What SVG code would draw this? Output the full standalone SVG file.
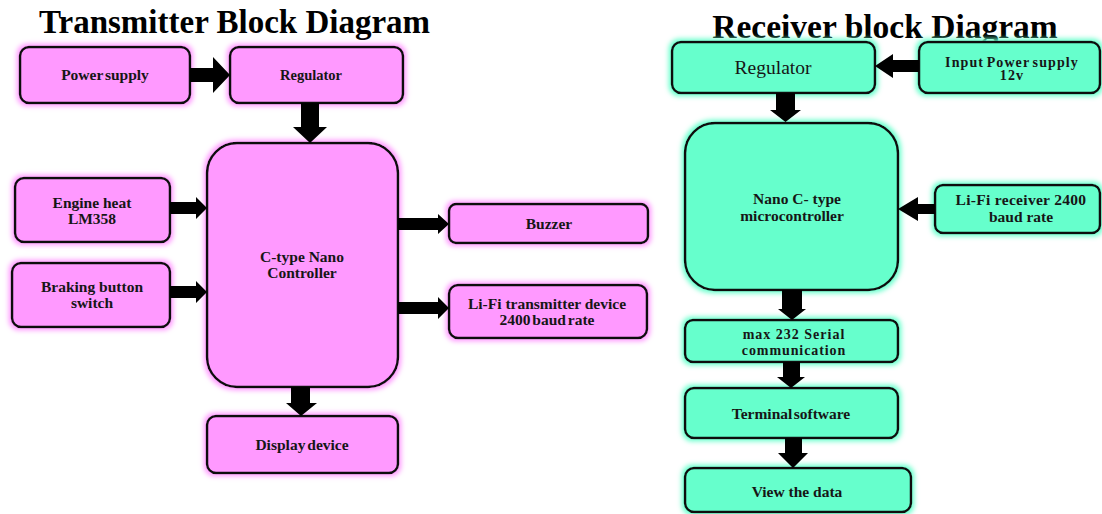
<svg xmlns="http://www.w3.org/2000/svg" width="1102" height="514" viewBox="0 0 1102 514">
<defs>
<filter id="gp" x="-20%" y="-30%" width="140%" height="160%">
<feMorphology in="SourceAlpha" operator="dilate" radius="2" result="d"/>
<feGaussianBlur in="d" stdDeviation="2.5" result="b"/>
<feFlood flood-color="#ff99ff"/>
<feComposite in2="b" operator="in" result="g"/>
<feMerge><feMergeNode in="g"/><feMergeNode in="SourceGraphic"/></feMerge>
</filter>
<filter id="gt" x="-20%" y="-30%" width="140%" height="160%">
<feMorphology in="SourceAlpha" operator="dilate" radius="2" result="d"/>
<feGaussianBlur in="d" stdDeviation="2.5" result="b"/>
<feFlood flood-color="#66ffcc"/>
<feComposite in2="b" operator="in" result="g"/>
<feMerge><feMergeNode in="g"/><feMergeNode in="SourceGraphic"/></feMerge>
</filter>
</defs>
<style>
.p{fill:#ff99ff;stroke:#111;stroke-width:2.5;filter:url(#gp)}
.t{fill:#66ffcc;stroke:#111;stroke-width:2.5;filter:url(#gt)}
.l{font-family:"Liberation Serif","Times New Roman",serif;font-weight:bold;font-size:15.5px;fill:#161616;text-anchor:middle}
.title{font-family:"Liberation Serif","Times New Roman",serif;font-weight:bold;font-size:33px;fill:#000;text-anchor:middle}
.ar{fill:#000}
</style>
<rect width="1102" height="514" fill="#fff"/>
<text class="title" x="234.5" y="33">Transmitter Block Diagram</text>
<text class="title" x="885" y="38" style="font-size:33.5px">Receiver block Diagram</text>

<g id="tx-power">
<rect class="p" x="20" y="47" width="170" height="56" rx="9"/>
<text class="l" x="105" y="80" style="word-spacing:-2px">Power supply</text>
</g>
<g id="tx-regulator">
<rect class="p" x="230" y="47" width="173" height="56" rx="9"/>
<text class="l" x="311" y="80" style="font-size:14.5px">Regulator</text>
</g>
<g id="tx-controller">
<rect class="p" x="207" y="143" width="191" height="244" rx="30"/>
<text class="l" x="302" y="262">C-type Nano</text>
<text class="l" x="302" y="278">Controller</text>
</g>
<g id="tx-engine">
<rect class="p" x="15" y="178" width="155" height="64" rx="9"/>
<text class="l" x="92" y="208">Engine heat</text>
<text class="l" x="92" y="224">LM358</text>
</g>
<g id="tx-braking">
<rect class="p" x="12" y="263" width="158" height="64" rx="9"/>
<text class="l" x="92" y="292">Braking button</text>
<text class="l" x="92" y="308">switch</text>
</g>
<g id="tx-buzzer">
<rect class="p" x="449" y="204" width="199" height="39" rx="7"/>
<text class="l" x="549" y="229">Buzzer</text>
</g>
<g id="tx-lifi">
<rect class="p" x="449" y="285" width="198" height="53" rx="9"/>
<text class="l" x="547" y="309">Li-Fi transmitter device</text>
<text class="l" x="547" y="325" style="word-spacing:-2px">2400 baud rate</text>
</g>
<g id="tx-display">
<rect class="p" x="207" y="416" width="191" height="57" rx="9"/>
<text class="l" x="302" y="450" style="word-spacing:-2px">Display device</text>
</g>

<g id="rx-regulator">
<rect class="t" x="672" y="42" width="203" height="51" rx="9"/>
<text class="l" x="773" y="74" style="font-weight:normal;font-size:19.5px">Regulator</text>
</g>
<g id="rx-input">
<rect class="t" x="919" y="42" width="181" height="51" rx="9"/>
<text class="l" x="1012" y="67" style="font-size:14px;letter-spacing:1.1px;word-spacing:-2px">Input Power supply</text>
<text class="l" x="1012" y="80" style="font-size:14px;letter-spacing:1.1px">12v</text>
</g>
<g id="rx-nano">
<rect class="t" x="685" y="123" width="213" height="167" rx="30"/>
<text class="l" x="797" y="204">Nano C- type</text>
<text class="l" x="792" y="221">microcontroller</text>
</g>
<g id="rx-lifi">
<rect class="t" x="935" y="185" width="165" height="48" rx="8"/>
<text class="l" x="1021" y="205" style="letter-spacing:0.3px">Li-Fi receiver 2400</text>
<text class="l" x="1021" y="222">baud rate</text>
</g>
<g id="rx-max">
<rect class="t" x="685" y="320" width="213" height="42" rx="8"/>
<text class="l" x="794" y="339" style="font-size:14px;letter-spacing:1px">max 232 Serial</text>
<text class="l" x="794" y="355" style="font-size:14px;letter-spacing:0.9px">communication</text>
</g>
<g id="rx-terminal">
<rect class="t" x="685" y="388" width="213" height="50" rx="9"/>
<text class="l" x="791" y="419" style="word-spacing:-2.5px">Terminal software</text>
</g>
<g id="rx-view">
<rect class="t" x="685" y="468" width="226" height="44" rx="9"/>
<text class="l" x="797" y="497">View the data</text>
</g>

<g id="connectors">
<polygon class="ar" points="190,68 213,68 213,57 230,75 213,93 213,82 190,82"/>
<polygon class="ar" points="301,103 319,103 319,127 327,127 310,143 293,127 301,127"/>
<polygon class="ar" points="170,202 196,202 196,197 207,208 196,219 196,214 170,214"/>
<polygon class="ar" points="170,286 196,286 196,281 207,292 196,303 196,298 170,298"/>
<polygon class="ar" points="398,218 438,218 438,214 449,224 438,234 438,230 398,230"/>
<polygon class="ar" points="398,302 438,302 438,297 449,308 438,319 438,314 398,314"/>
<polygon class="ar" points="291,387 310,387 310,403 317,403 301,416 286,403 291,403"/>
<polygon class="ar" points="919,60 893,60 893,54 875,66 893,78 893,72 919,72"/>
<polygon class="ar" points="776,93 795,93 795,110 801,110 785.5,122 770,110 776,110"/>
<polygon class="ar" points="935,204 918,204 918,197 898,209 918,221 918,214 935,214"/>
<polygon class="ar" points="782,290 802,290 802,309 806,309 792,320 778,309 782,309"/>
<polygon class="ar" points="783,362 800,362 800,377 805,377 791,388 777,377 783,377"/>
<polygon class="ar" points="785,438 802,438 802,453 808,453 793,468 778,453 785,453"/>
</g>
</svg>
